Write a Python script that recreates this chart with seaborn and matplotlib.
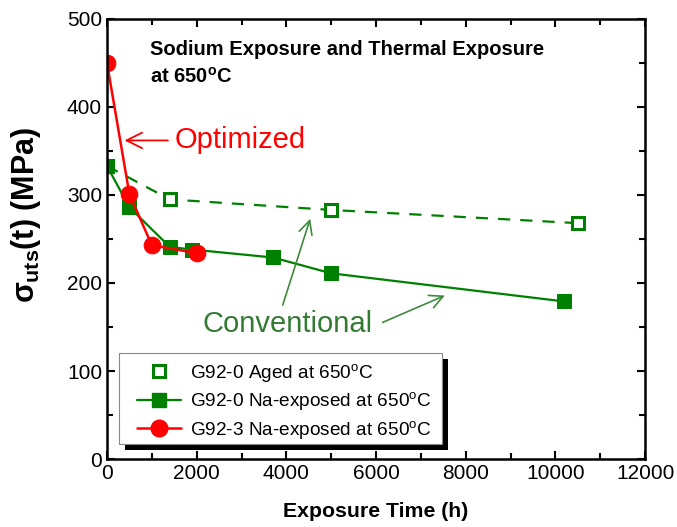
import matplotlib
matplotlib.use('Agg')
from matplotlib import pyplot as plt
from matplotlib.lines import Line2D
from matplotlib.patches import Rectangle
import seaborn as sns

# data
aged_time = [0, 1400, 5000, 10500]
aged_uts = [333, 295, 283, 268]
na0_time = [0, 500, 1400, 1900, 3700, 5000, 10200]
na0_uts = [333, 286, 241, 238, 229, 211, 179]
na3_time = [0, 500, 1000, 2000]
na3_uts = [450, 301, 243, 234]
legend_labels = [r'G92-0 Aged at 650$^{\rm o}$C',
                 r'G92-0 Na-exposed at 650$^{\rm o}$C',
                 r'G92-3 Na-exposed at 650$^{\rm o}$C']

green = '#008000'
red = '#ff0000'

sns.set_style('ticks')
plt.rcParams['font.family'] = ['Liberation Sans', 'DejaVu Sans']
plt.rcParams['mathtext.fontset'] = 'custom'
plt.rcParams['mathtext.rm'] = 'Liberation Sans'
plt.rcParams['mathtext.it'] = 'Liberation Sans:bold'
plt.rcParams['mathtext.bf'] = 'Liberation Sans:bold'
plt.rcParams['xtick.direction'] = 'in'
plt.rcParams['ytick.direction'] = 'in'
plt.rcParams['text.color'] = 'black'
plt.rcParams['axes.labelcolor'] = 'black'

fig = plt.figure(figsize=(6.77, 5.27), dpi=100)
ax = fig.add_axes([0.158, 0.129, 0.795, 0.835])

sns.lineplot(x=aged_time, y=aged_uts, ax=ax, color=green, lw=1.6, linestyle=(0, (5.5, 4.5)),
             marker='s', markersize=8.5, markerfacecolor='white', markeredgecolor=green,
             markeredgewidth=2.2, sort=False, estimator=None)
sns.lineplot(x=na0_time, y=na0_uts, ax=ax, color=green, lw=1.6, marker='s', markersize=10,
             markeredgecolor=green, markerfacecolor=green, sort=False, estimator=None)
sns.lineplot(x=na3_time, y=na3_uts, ax=ax, color=red, lw=1.8, marker='o', markersize=12,
             markeredgecolor=red, markerfacecolor=red, sort=False, estimator=None)

ax.set_xlim(0, 12000)
ax.set_ylim(0, 500)
ax.set_xticks(range(0, 12001, 2000))
ax.set_xticks(range(1000, 12000, 2000), minor=True)
ax.set_yticks(range(0, 501, 100))
ax.set_yticks(range(50, 500, 100), minor=True)
ax.tick_params(which='both', top=True, right=True, width=1.5, labelsize=15,
               colors='black', labelcolor='black')
ax.tick_params(which='major', length=6)
ax.tick_params(which='minor', length=4)
for s in ax.spines.values():
    s.set_linewidth(1.8)
    s.set_color('black')

ax.set_xlabel('Exposure Time (h)', fontsize=15.3, fontweight='bold', labelpad=14)
ax.set_ylabel(r'$\sigma_{\mathbf{uts}}$(t) (MPa)', fontsize=22, fontweight='bold')
ax.yaxis.set_label_coords(-0.118, 0.555)

ax.text(0.08, 0.952, 'Sodium Exposure and Thermal Exposure\n' + r'at 650$^{\mathbf{o}}$C',
        transform=ax.transAxes, fontsize=14.5, fontweight='bold', va='top', linespacing=1.45)

# annotations
ax.annotate('', xy=(330, 362), xytext=(1420, 362),
            arrowprops=dict(arrowstyle='->', color=red, lw=1.3, mutation_scale=28))
ax.text(1500, 362, 'Optimized', color=red, fontsize=21, va='center')
ax.text(2140, 153, 'Conventional', color='#337a33', fontsize=21, va='center')
ax.annotate('', xy=(4550, 276), xytext=(3900, 172),
            arrowprops=dict(arrowstyle='->', color='#3d8a3d', lw=1.2, mutation_scale=24))
ax.annotate('', xy=(7590, 187), xytext=(6090, 154),
            arrowprops=dict(arrowstyle='->', color='#3d8a3d', lw=1.2, mutation_scale=24))

handles = [
    Line2D([], [], ls='none', marker='s', markersize=8.5, markerfacecolor='white',
           markeredgecolor=green, markeredgewidth=2.2),
    Line2D([], [], color=green, lw=1.6, marker='s', markersize=10, markerfacecolor=green,
           markeredgecolor=green),
    Line2D([], [], color=red, lw=1.8, marker='o', markersize=12, markerfacecolor=red,
           markeredgecolor=red),
]
leg = ax.legend(handles, legend_labels, loc='lower left', bbox_to_anchor=(0.056, 0.042),
                borderaxespad=0, borderpad=0, fontsize=13.7, frameon=False,
                handlelength=2.3, handletextpad=0.5, labelspacing=0.33)
leg.set_zorder(6)

# legend frame with a solid black drop shadow, padded around the legend contents
fig.canvas.draw()
bb = leg.get_window_extent()
pad_l, pad_r, pad_t, pad_b = 18, 10, 9, 3
x0, y0 = bb.x0 - pad_l, bb.y0 - pad_b
w, h = bb.width + pad_l + pad_r, bb.height + pad_t + pad_b
inv = fig.transFigure.inverted()
(fx0, fy0), (fx1, fy1) = inv.transform([(x0, y0), (x0 + w, y0 + h)])
dx, dy = 6 / 677, 6 / 527
shadow = Rectangle((fx0 + dx, fy0 - dy), fx1 - fx0, fy1 - fy0, transform=fig.transFigure,
                   facecolor='black', edgecolor='none', zorder=4, clip_on=False)
frame = Rectangle((fx0, fy0), fx1 - fx0, fy1 - fy0, transform=fig.transFigure,
                  facecolor='white', edgecolor='#888888', lw=0.8, zorder=5, clip_on=False)
ax.add_artist(shadow)
ax.add_artist(frame)

fig.savefig('out.png', dpi=100)
